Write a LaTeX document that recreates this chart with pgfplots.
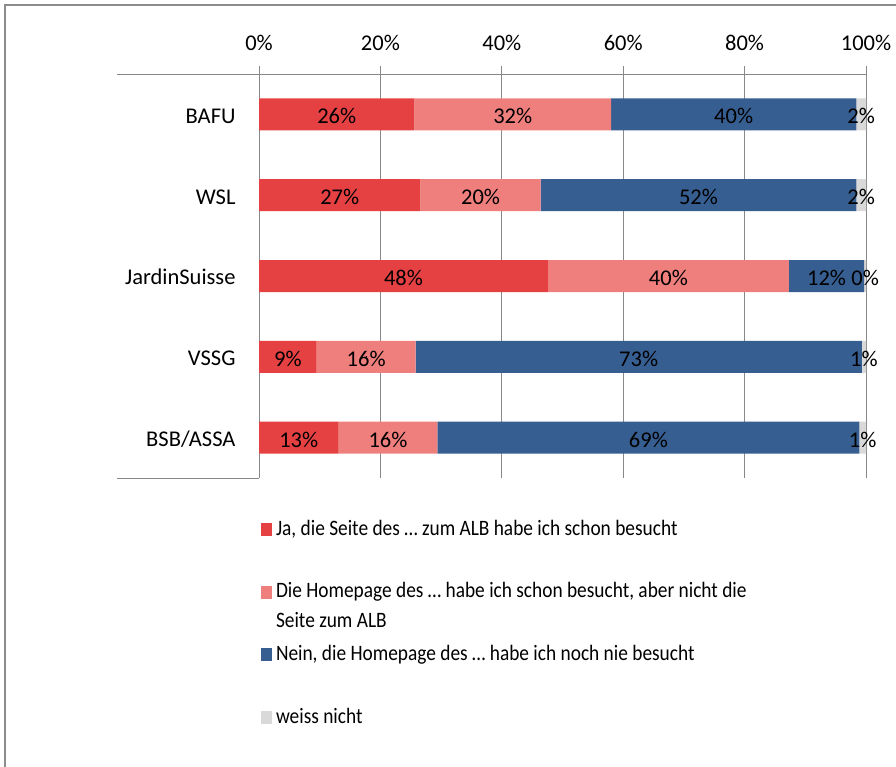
\documentclass[border=0pt]{standalone}
\usepackage{fontspec}
\setmainfont{Carlito}
\newfontfamily\legfont[FakeStretch=0.88]{Carlito}
\usepackage{pgfplots}
\usepackage{pgfplotstable}
\pgfplotsset{compat=1.18}

\definecolor{cJa}{HTML}{E54142}
\definecolor{cHp}{HTML}{EF7F7D}
\definecolor{cNein}{HTML}{365E91}
\definecolor{cWn}{HTML}{D9D9D9}
\definecolor{cLine}{HTML}{888888}
\definecolor{cFrame}{HTML}{8C8C8C}

% shares (percent), y: 4 = BAFU (top) ... 0 = BSB/ASSA (bottom)
\pgfplotstableread{
y ja hp nein wn
4 25.6 32.4 40.4 1.6
3 26.6 19.8 52.0 1.6
2 47.6 39.7 12.4 0.3
1 9.5 16.3 73.5 0.7
0 13.1 16.3 69.5 1.1
}\shares

% label positions (segment midpoints) and printed labels
\pgfplotstableread{
y xja lja xhp lhp xnein lnein xwn lwn
4 12.8 26 41.8 32 78.2 40 99.2 2
3 13.3 27 36.5 20 72.4 52 99.2 2
2 23.8 48 67.45 40 93.5 12 99.85 0
1 4.75 9 17.65 16 62.55 73 99.65 1
0 6.55 13 21.25 16 64.15 69 99.45 1
}\labels

\newcommand\axfont{\fontsize{22.5}{27}\selectfont}

\begin{document}
\begin{tikzpicture}
\useasboundingbox (0pt,0pt) rectangle (896pt,-767pt);
\draw[cFrame, line width=2pt] (5pt,-767pt) -- (5pt,-5pt) -- (896pt,-5pt);

\begin{axis}[
  at={(259pt,-74pt)}, anchor=north west,
  scale only axis, width=607pt, height=404pt,
  xbar stacked, bar width=32pt,
  xmin=0, xmax=100, ymin=-0.5, ymax=4.5,
  clip=false,
  axis line style={draw=none},
  xtick={0,20,40,60,80,100},
  xticklabels={0\%,20\%,40\%,60\%,80\%,100\%},
  xtick pos=right, xticklabel pos=right,
  tick align=outside,
  major tick length=8pt,
  x tick style={cLine, line width=1pt},
  xmajorgrids,
  major grid style={cLine, line width=1pt},
  ytick={0,1,2,3,4},
  yticklabels={BSB/ASSA,VSSG,JardinSuisse,WSL,BAFU},
  y tick style={draw=none},
  tick label style={font=\axfont, text=black},
  x tick label style={anchor=base, yshift=15.3pt},
  y tick label style={anchor=base east, inner sep=0pt, xshift=-15.3pt, yshift=-8.9pt},
  legend style={at={(axis description cs:0,0)}, anchor=north west,
    xshift=2pt, yshift=-40pt, draw=none, fill=none,
    inner sep=0pt, outer sep=0pt, row sep=0pt, column sep=4pt,
    font=\legfont\fontsize{22}{30}\selectfont,
    cells={anchor=base west},
    nodes={inner sep=0pt, text height=17pt, text depth=45.7pt}},
  legend image code/.code={\fill[#1,draw=none] (0pt,-1pt) rectangle (11pt,12pt);},
]
\addplot[fill=cJa, draw=none] table[x=ja, y=y]{\shares};
\addlegendentry{Ja, die Seite des … zum ALB habe ich schon besucht}
\addplot[fill=cHp, draw=none] table[x=hp, y=y]{\shares};
\addlegendentry{\parbox[t]{600pt}{\raggedright Die Homepage des … habe ich schon besucht, aber nicht die\\Seite zum ALB}}
\addplot[fill=cNein, draw=none] table[x=nein, y=y]{\shares};
\addlegendentry{Nein, die Homepage des … habe ich noch nie besucht}
\addplot[fill=cWn, draw=none] table[x=wn, y=y]{\shares};
\addlegendentry{weiss nicht}

\draw[cLine, line width=1pt] ([xshift=-142pt]axis cs:0,4.5) -- (axis cs:100,4.5);
\draw[cLine, line width=1pt] ([xshift=-142pt]axis cs:0,-0.5) -- (axis cs:0,-0.5);
\end{axis}

\begin{axis}[
  at={(259pt,-74pt)}, anchor=north west,
  scale only axis, width=607pt, height=404pt,
  xmin=0, xmax=100, ymin=-0.5, ymax=4.5,
  hide axis, clip=false,
  point meta=explicit symbolic,
  nodes near coords={\pgfplotspointmeta\%},
  every node near coord/.append style={font=\axfont, text=black, anchor=base,
    yshift=-9.5pt, inner sep=0pt, opacity=1, text opacity=1},
]
\addplot[only marks, mark=*, mark size=0pt, mark options={draw=none, fill=none, line width=0pt}] table[x=xja, y=y, meta=lja]{\labels};
\addplot[only marks, mark=*, mark size=0pt, mark options={draw=none, fill=none, line width=0pt}] table[x=xhp, y=y, meta=lhp]{\labels};
\addplot[only marks, mark=*, mark size=0pt, mark options={draw=none, fill=none, line width=0pt}] table[x=xnein, y=y, meta=lnein]{\labels};
\addplot[only marks, mark=*, mark size=0pt, mark options={draw=none, fill=none, line width=0pt}] table[x=xwn, y=y, meta=lwn]{\labels};
\end{axis}
\end{tikzpicture}
\end{document}
